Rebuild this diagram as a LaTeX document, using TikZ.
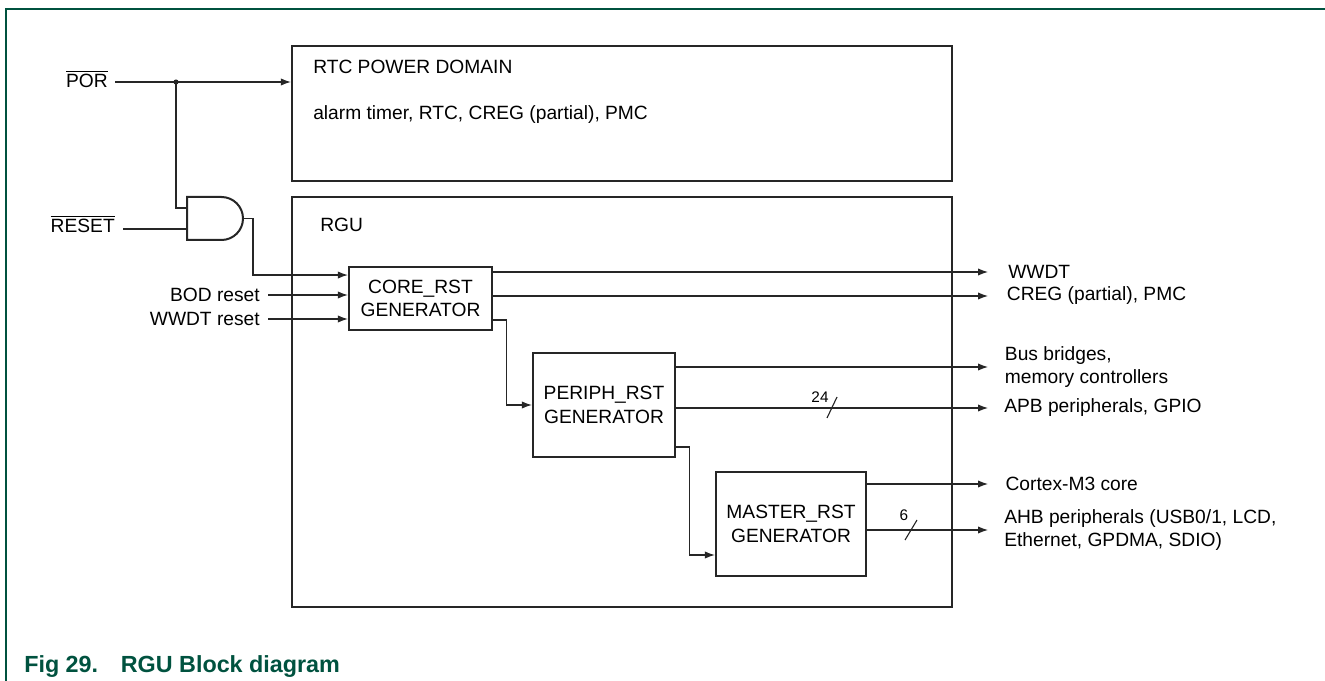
\documentclass[tikz,border=0pt]{standalone}
\usepackage{fontspec}
\setmainfont{Liberation Sans}
\usepackage{xcolor}
\usetikzlibrary{shapes,arrows.meta,positioning}
\definecolor{nxpgreen}{HTML}{00523F}
% active-low signal name with a bar above it
\newcommand{\lowsig}[1]{\setbox0\hbox{#1}\rlap{\rule[\dimexpr\ht0+2.2pt\relax]{\wd0}{0.7pt}}\box0}

\begin{document}
\begin{tikzpicture}[x=0.75pt, y=-0.75pt,
    font=\fontsize{14.4}{17.5}\selectfont,
    block/.style={rectangle, draw=black!85, line width=1.7pt, align=center},
    wire/.style={line width=0.85pt, draw=black!85},
    sig/.style={wire, -{Latex[length=7.5pt,width=5.5pt]}},
    lbl/.style={inner sep=0pt, align=left},
    buswidth/.style={inner sep=0pt, font=\fontsize{11.5}{13}\selectfont}]

    % frame and caption
    \useasboundingbox (0,0) rectangle (1325,681);
    \draw[nxpgreen, line width=1.5pt] (6,681) -- (6,9) -- (1325,9);
    \node[anchor=base west, inner sep=0pt, text=nxpgreen, font=\fontsize{17.5}{20}\selectfont\bfseries] (caption) at (24,672) {Fig 29.\hspace{17pt}RGU Block diagram};

    % domains
    \node[block, minimum width=495pt, minimum height=101.25pt] (rtc) at (622,113.5) {};
    \node[block, minimum width=495pt, minimum height=307.5pt] (rgu) at (622,402) {};
    \node[lbl, anchor=base west] (rtctitle) at (313,74) {RTC POWER DOMAIN};
    \node[lbl, anchor=base west] (rtclist) at (313,120) {alarm timer, RTC, CREG (partial), PMC};
    \node[lbl, anchor=base west] (rgutitle) at (320,232) {RGU};

    % generators
    \node[block, minimum width=107.25pt, minimum height=47.25pt] (core) at (420.5,298.5) {CORE\_RST\\GENERATOR};
    \node[block, minimum width=106.5pt, minimum height=78pt] (periph) at (604,405) {PERIPH\_RST\\GENERATOR};
    \node[block, minimum width=112.5pt, minimum height=78pt] (master) at (791,524) {MASTER\_RST\\GENERATOR};

    % and gate
    \coordinate (gin1) at (187,208);
    \coordinate (gin2) at (187,229);
    \coordinate (gout) at (243,218.5);
    \draw[black!85, line width=1.5pt] (187,197) -- (221.5,197) arc[start angle=90, end angle=-90, radius=16.125pt] -- (187,240) -- cycle;

    % inputs
    \node[lbl, anchor=base east] (por) at (108,88) {\lowsig{POR}};
    \node[lbl, anchor=base east] (rst) at (115,233) {\lowsig{RESET}};
    \node[lbl, anchor=east] (bod) at (260,295) {BOD reset};
    \node[lbl, anchor=east] (wwdtrst) at (260,319) {WWDT reset};
    \coordinate (porin) at (115,82);
    \coordinate (junc) at (176,82);
    \coordinate (rstin) at (123,229);

    \draw[sig] (porin) -- (porin -| rtc.west);
    \fill[black!85] (junc) circle (1.9pt);
    \draw[wire] (junc) |- (gin1);
    \draw[wire] (rstin) -- (gin2);
    \draw[sig] (gout) -- ++(10,0) |- ([yshift=17.6pt]core.west);
    \draw[sig] ([xshift=6pt]bod.east) -- (bod.east -| core.west);
    \draw[sig] ([xshift=6pt]wwdtrst.east) -- (wwdtrst.east -| core.west);

    % generator chain
    \draw[sig] ([yshift=-16.1pt]core.east) -| ([xshift=-18.75pt]periph.west) -- (periph.west);
    \draw[sig] ([yshift=-31.5pt]periph.east) -| ([xshift=-18.75pt,yshift=-23.25pt]master.west) -- ([yshift=-23.25pt]master.west);

    % outputs
    \coordinate (wwdtend) at (988,272);
    \coordinate (cregend) at (988,296);
    \coordinate (busend) at (988,367);
    \coordinate (apbend) at (988,408);
    \coordinate (cpuend) at (988,484);
    \coordinate (ahbend) at (988,530);
    \draw[sig] (core.east |- wwdtend) -- (wwdtend);
    \draw[sig] (core.east |- cregend) -- (cregend);
    \draw[sig] (periph.east |- busend) -- (busend);
    \draw[sig] (periph.east |- apbend) -- (apbend);
    \draw[sig] (master.east |- cpuend) -- (cpuend);
    \draw[sig] (master.east |- ahbend) -- (ahbend);
    \node[lbl, right=15pt of wwdtend] (wwdt) {WWDT};
    \node[lbl, right=14pt of cregend] (creg) {CREG (partial), PMC};
    \node[lbl, right=12.5pt of busend] (bus) {Bus bridges,\\memory controllers};
    \node[lbl, right=12pt of apbend] (apb) {APB peripherals, GPIO};
    \node[lbl, right=13pt of cpuend] (cpu) {Cortex-M3 core};
    \node[lbl, right=12pt of ahbend] (ahb) {AHB peripherals (USB0/1, LCD,\\Ethernet, GPDMA, SDIO)};

    % bus widths
    \draw[wire] (827,418) -- (837,397);
    \node[buswidth] (apbwidth) at (820,397) {24};
    \draw[wire] (905,540) -- (917,520);
    \node[buswidth] (ahbwidth) at (904,515) {6};
\end{tikzpicture}
\end{document}
